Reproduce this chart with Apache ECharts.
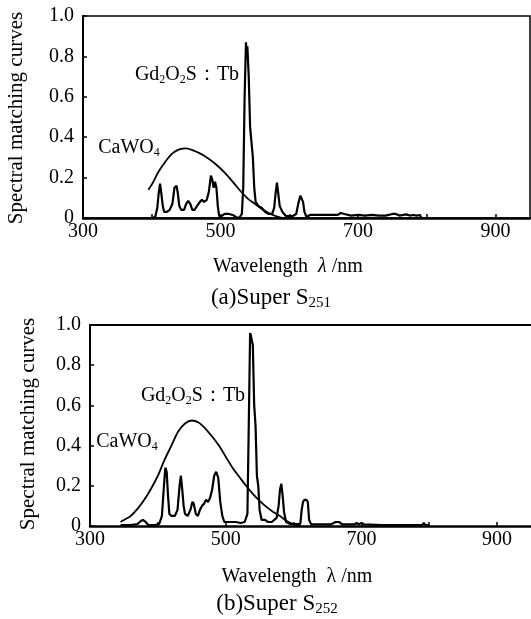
<!DOCTYPE html>
<html>
<head>
<meta charset="utf-8">
<script src="https://cdn.jsdelivr.net/npm/echarts@6/dist/echarts.min.js"></script>
<style>
html,body{margin:0;padding:0;background:#fff;}
#c{width:531px;height:619px;}
</style>
</head>
<body>
<div id="c"></div>
<script>
// ---- data ----
const xTickLabels = [300, 500, 700, 900];
const yTickLabels = [0, 0.2, 0.4, 0.6, 0.8, 1.0];

// (a) Super S251
const caWO4_a = [[395,0.14],[400,0.165],[410,0.23],[420,0.28],[430,0.32],[440,0.34],[450,0.345],[460,0.335],[470,0.32],[480,0.3],[490,0.275],[500,0.245],[510,0.21],[520,0.17],[530,0.13],[540,0.095],[550,0.07],[560,0.045],[570,0.025],[580,0.01],[590,0]];
const gd_a = [[400,0],[405,0.005],[408,0.05],[410,0.12],[412,0.17],[414,0.12],[416,0.06],[418,0.03],[422,0.03],[426,0.04],[430,0.07],[433,0.15],[436,0.16],[438,0.12],[440,0.06],[443,0.04],[447,0.04],[450,0.07],[453,0.085],[456,0.07],[459,0.04],[462,0.04],[466,0.06],[470,0.08],[473,0.09],[476,0.08],[480,0.09],[483,0.13],[486,0.21],[488,0.19],[490,0.15],[492,0.18],[494,0.15],[496,0.06],[498,0.01],[502,0.01],[506,0.02],[512,0.02],[518,0.015],[522,0.005],[527,0],[531,0.02],[533,0.15],[535,0.6],[537,0.87],[538,0.8],[539,0.85],[541,0.7],[543,0.45],[545,0.45],[547,0.3],[549,0.15],[551,0.08],[555,0.06],[560,0.05],[565,0.03],[570,0.02],[575,0.02],[578,0.05],[580,0.12],[582,0.175],[584,0.12],[586,0.06],[590,0.03],[595,0.01],[600,0.01],[605,0.01],[610,0.02],[613,0.07],[616,0.11],[618,0.115],[620,0.08],[622,0.03],[625,0.005],[630,0.015],[640,0.015],[650,0.015],[660,0.015],[670,0.015],[675,0.025],[680,0.02],[690,0.012],[700,0.015],[710,0.012],[720,0.015],[730,0.012],[740,0.012],[750,0.02],[755,0.02],[760,0.012],[770,0.018],[775,0.012],[780,0.015],[785,0.012],[790,0.015],[792,0]];

// (b) Super S252
const caWO4_b = [[345,0.02],[350,0.03],[360,0.05],[370,0.085],[380,0.13],[390,0.185],[400,0.25],[410,0.33],[420,0.4],[430,0.47],[440,0.51],[450,0.525],[460,0.515],[470,0.485],[480,0.445],[490,0.4],[500,0.345],[510,0.29],[520,0.245],[530,0.2],[540,0.16],[550,0.125],[560,0.095],[570,0.07],[580,0.05],[590,0.025],[600,0.01],[610,0]];
const gd_b = [[345,0.005],[360,0.005],[370,0.01],[375,0.025],[378,0.03],[382,0.02],[386,0.005],[395,0.005],[402,0.01],[406,0.05],[409,0.2],[411,0.29],[413,0.27],[415,0.15],[417,0.06],[420,0.05],[425,0.05],[429,0.08],[432,0.2],[434,0.25],[436,0.18],[438,0.1],[440,0.06],[444,0.05],[448,0.08],[451,0.12],[453,0.11],[456,0.06],[459,0.05],[462,0.08],[465,0.1],[468,0.11],[471,0.13],[474,0.12],[477,0.14],[480,0.18],[483,0.25],[486,0.27],[489,0.24],[492,0.12],[495,0.05],[498,0.02],[505,0.02],[515,0.02],[522,0.015],[528,0.02],[532,0.06],[534,0.5],[536,0.96],[537,0.95],[538,0.93],[540,0.9],[542,0.6],[544,0.5],[546,0.25],[548,0.2],[550,0.08],[553,0.03],[558,0.03],[562,0.02],[568,0.02],[575,0.04],[578,0.1],[580,0.18],[582,0.21],[584,0.15],[586,0.07],[589,0.02],[595,0.01],[605,0.01],[610,0.01],[612,0.08],[614,0.12],[616,0.13],[619,0.13],[621,0.12],[623,0.03],[626,0.008],[640,0.008],[655,0.008],[662,0.02],[667,0.02],[672,0.008],[690,0.008],[693,0.015],[696,0.008],[700,0.015],[704,0.008],[730,0.005],[760,0.005],[790,0.005],[792,0.015],[794,0.005],[800,0.005]];

// ---- chart ----
const FONT = "'Liberation Serif','Times New Roman',serif";
const chart = echarts.init(document.getElementById('c'), null, {renderer:'canvas'});

function xAxis(gi){
  return {
    type:'value', gridIndex:gi, min:300, max:950, interval:100,
    axisLine:{show:true, onZero:false, lineStyle:{color:'#000', width:2.5}},
    axisTick:{show:true, inside:true, length:4, lineStyle:{color:'#000', width:1.5}},
    splitLine:{show:false},
    axisLabel:{color:'#000', fontFamily:FONT, fontSize:20, margin:4,
      formatter:v => xTickLabels.includes(v) ? String(v) : '', showMaxLabel:false}
  };
}
function topAxis(gi){
  return {
    type:'value', gridIndex:gi, position:'top', min:300, max:950,
    axisLine:{show:true, onZero:false, lineStyle:{color:'#000', width:2}},
    axisTick:{show:false}, axisLabel:{show:false}, splitLine:{show:false}
  };
}
function yAxis(gi){
  return {
    type:'value', gridIndex:gi, min:0, max:1, interval:0.2,
    axisLine:{show:true, lineStyle:{color:'#000', width:2}},
    axisTick:{show:true, inside:true, length:4, lineStyle:{color:'#000', width:1.5}},
    splitLine:{show:false},
    axisLabel:{color:'#000', fontFamily:FONT, fontSize:20, margin:9,
      formatter:v => (yTickLabels.includes(+v.toFixed(1)) ? (v === 0 ? '0' : v.toFixed(1)) : '')}
  };
}
function line(xi, data, w, smooth){
  return {type:'line', xAxisIndex:xi, yAxisIndex:xi, data:data, showSymbol:false, symbol:'none',
    smooth:smooth, lineStyle:{color:'#000', width:w}, animation:false, silent:true};
}
function rt(x, y, text, rich, rot){
  return {type:'text', x:x, y:y, rotation:rot||0, silent:true,
    style:{text:text, rich:rich, align:'center', verticalAlign:'middle', textAlign:'center', textVerticalAlign:'middle', fill:'#000'}};
}
const R = {
  n:{fontFamily:FONT, fontSize:20, lineHeight:22, color:'#000'},
  i:{fontFamily:FONT, fontSize:20, lineHeight:22, fontStyle:'italic', color:'#000'},
  s:{fontFamily:FONT, fontSize:12, verticalAlign:'bottom', color:'#000'},
  c:{fontFamily:FONT, fontSize:23, lineHeight:25, color:'#000'},
  cs:{fontFamily:FONT, fontSize:15, verticalAlign:'bottom', color:'#000'},
  y:{fontFamily:FONT, fontSize:21, lineHeight:22, color:'#000'}
};

chart.setOption({
  animation:false,
  backgroundColor:'#fff',
  grid:[
    {left:83, top:16, width:447, height:202, show:true, borderColor:'#000', borderWidth:1.5, backgroundColor:'transparent'},
    {left:90, top:325, width:446, height:201, show:false}
  ],
  xAxis:[xAxis(0), xAxis(1), topAxis(1)],
  yAxis:[yAxis(0), yAxis(1)],
  series:[
    line(0, caWO4_a, 1.8, 0.3),
    line(0, gd_a, 2.2, false),
    line(1, caWO4_b, 1.8, 0.3),
    line(1, gd_b, 2.2, false)
  ],
  graphic:[
    rt(16, 118, '{y|Spectral matching curves}', R, Math.PI/2),
    rt(28, 424, '{y|Spectral matching curves}', R, Math.PI/2),
    rt(288, 267, '{n|Wavelength  }{i|λ}{n| /nm}', R),
    rt(297, 577, '{n|Wavelength  λ /nm}', R),
    rt(271, 298, '{c|(a)Super S}{cs|251}', R),
    rt(277, 604, '{c|(b)Super S}{cs|252}', R),
    rt(187, 75, '{n|Gd}{s|2}{n|O}{s|2}{n|S：Tb}', R),
    rt(193, 396, '{n|Gd}{s|2}{n|O}{s|2}{n|S：Tb}', R),
    rt(129, 148, '{n|CaWO}{s|4}', R),
    rt(127, 442, '{n|CaWO}{s|4}', R)
  ]
});
</script>
</body>
</html>
